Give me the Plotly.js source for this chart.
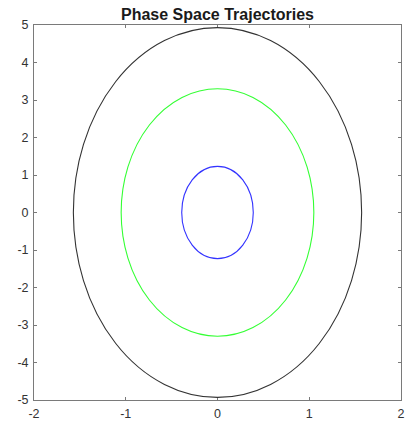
<!DOCTYPE html>
<html>
<head>
<meta charset="utf-8">
<script src="https://cdn.plot.ly/plotly-3.0.1.min.js"></script>
<style>
  html, body { margin: 0; padding: 0; background: #fff; }
  #chart { width: 405px; height: 421px; }
</style>
</head>
<body>
<div id="chart"></div>
<script>
// Closed orbits of the oscillator: half-width in position and half-height in velocity
const orbitNames = ['E1', 'E2', 'E3'];
const positionAmplitude = [1.571, 1.05, 0.39];
const velocityAmplitude = [4.93, 3.30, 1.23];
const orbitColors = ['#333333', '#33ff33', '#3333ff'];

const xTicks = [-2, -1, 0, 1, 2];
const yTicks = [-5, -4, -3, -2, -1, 0, 1, 2, 3, 4, 5];

// Each orbit is an ellipse centred on the origin, placed in data coordinates
const shapes = orbitNames.map((name, i) => ({
  type: 'circle',
  xref: 'x', yref: 'y',
  x0: -positionAmplitude[i], x1: positionAmplitude[i],
  y0: -velocityAmplitude[i], y1: velocityAmplitude[i],
  line: { color: orbitColors[i], width: 1.1 },
  fillcolor: 'rgba(0,0,0,0)'
}));

const axisStyle = {
  showgrid: false,
  zeroline: false,
  showline: true,
  linecolor: '#7a7a7a',
  linewidth: 1,
  mirror: 'ticks',
  ticks: 'inside',
  ticklen: 3,
  tickcolor: '#7a7a7a',
  ticklabelstandoff: 2,
  tickfont: { family: 'Liberation Sans, Arial, sans-serif', size: 12.5, color: '#333333' }
};

const layout = {
  width: 405,
  height: 421,
  margin: { l: 34, r: 4, t: 25, b: 21 },
  paper_bgcolor: '#ffffff',
  plot_bgcolor: '#ffffff',
  showlegend: false,
  title: {
    text: '<b>Phase Space Trajectories</b>',
    x: 0.5, xref: 'paper', xanchor: 'center',
    y: 1, yref: 'paper', yanchor: 'bottom', pad: { b: 5 },
    font: { family: 'Liberation Sans, Arial, sans-serif', size: 16, color: '#1a1a1a' }
  },
  xaxis: Object.assign({}, axisStyle, {
    range: [-2, 2], tickvals: xTicks, ticktext: xTicks.map(String)
  }),
  yaxis: Object.assign({}, axisStyle, {
    range: [-5, 5], tickvals: yTicks, ticktext: yTicks.map(String)
  }),
  shapes: shapes
};

// An invisible trace keeps the axes active
const data = [{ x: [], y: [], type: 'scatter', mode: 'lines', hoverinfo: 'skip' }];

Plotly.newPlot('chart', data, layout, { staticPlot: true, displayModeBar: false });
</script>
</body>
</html>
